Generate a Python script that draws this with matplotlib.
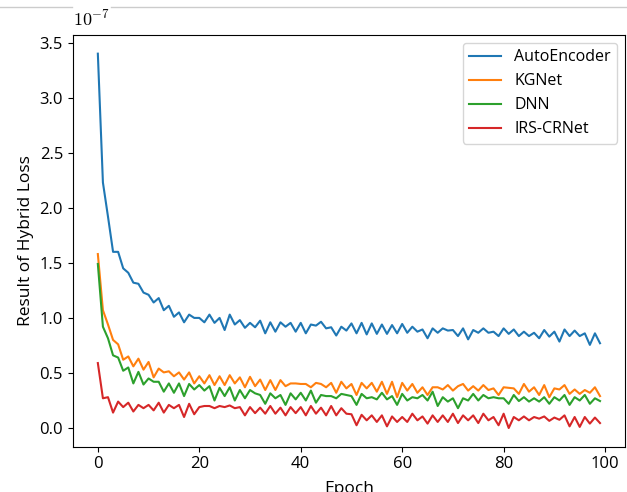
import numpy as np
import matplotlib
matplotlib.use("Agg")
import matplotlib.pyplot as plt
from matplotlib.lines import Line2D
from matplotlib.ticker import FuncFormatter

plt.rcParams['font.family'] = ['Open Sans', 'DejaVu Sans']
plt.rcParams['mathtext.fontset'] = 'cm'

SCALE = 1e-7
epochs = np.arange(100)

# Loss values per epoch, in units of 1e-7
autoencoder = [
    3.40, 2.23, 1.92, 1.60, 1.60, 1.45, 1.41, 1.32, 1.31, 1.23,
    1.21, 1.14, 1.18, 1.07, 1.11, 1.01, 1.05, 0.96, 1.03, 1.00,
    1.00, 0.96, 1.03, 0.955, 1.00, 0.89, 1.03, 0.94, 0.98, 0.91,
    0.955, 0.915, 0.975, 0.86, 0.96, 0.875, 0.96, 0.92, 0.955, 0.875,
    0.955, 0.86, 0.94, 0.93, 0.965, 0.905, 0.915, 0.84, 0.92, 0.885,
    0.95, 0.86, 0.955, 0.85, 0.95, 0.855, 0.94, 0.855, 0.935, 0.86,
    0.945, 0.865, 0.92, 0.875, 0.895, 0.815, 0.905, 0.865, 0.905, 0.885,
    0.89, 0.835, 0.905, 0.805, 0.89, 0.865, 0.905, 0.865, 0.875, 0.835,
    0.905, 0.855, 0.895, 0.835, 0.875, 0.835, 0.865, 0.815, 0.89, 0.83,
    0.875, 0.785, 0.895, 0.835, 0.885, 0.835, 0.86, 0.755, 0.86, 0.77,
]
kgnet = [
    1.58, 1.07, 0.94, 0.80, 0.76, 0.62, 0.65, 0.56, 0.63, 0.53,
    0.60, 0.46, 0.54, 0.505, 0.515, 0.47, 0.505, 0.44, 0.505, 0.405,
    0.47, 0.405, 0.48, 0.39, 0.47, 0.39, 0.48, 0.405, 0.46, 0.37,
    0.465, 0.38, 0.44, 0.345, 0.435, 0.345, 0.435, 0.38, 0.405, 0.405,
    0.40, 0.40, 0.37, 0.41, 0.40, 0.37, 0.41, 0.32, 0.42, 0.36,
    0.40, 0.30, 0.41, 0.36, 0.41, 0.33, 0.42, 0.31, 0.42, 0.28,
    0.41, 0.34, 0.40, 0.32, 0.37, 0.30, 0.37, 0.37, 0.35, 0.39,
    0.34, 0.38, 0.40, 0.34, 0.38, 0.34, 0.39, 0.345, 0.36, 0.30,
    0.37, 0.365, 0.36, 0.31, 0.40, 0.33, 0.37, 0.30, 0.39, 0.28,
    0.36, 0.35, 0.39, 0.31, 0.35, 0.31, 0.345, 0.32, 0.37, 0.29,
]
dnn = [
    1.49, 0.92, 0.815, 0.66, 0.64, 0.52, 0.55, 0.405, 0.51, 0.395,
    0.45, 0.42, 0.42, 0.33, 0.405, 0.32, 0.405, 0.29, 0.40, 0.35,
    0.39, 0.34, 0.38, 0.25, 0.365, 0.29, 0.37, 0.25, 0.345, 0.27,
    0.345, 0.315, 0.30, 0.22, 0.315, 0.27, 0.30, 0.21, 0.315, 0.26,
    0.32, 0.25, 0.34, 0.23, 0.30, 0.29, 0.29, 0.27, 0.31, 0.30,
    0.29, 0.21, 0.31, 0.27, 0.28, 0.26, 0.32, 0.26, 0.29, 0.21,
    0.31, 0.25, 0.28, 0.27, 0.30, 0.25, 0.33, 0.20, 0.28, 0.24,
    0.27, 0.18, 0.27, 0.25, 0.31, 0.25, 0.30, 0.27, 0.28, 0.27,
    0.27, 0.22, 0.30, 0.245, 0.28, 0.24, 0.27, 0.24, 0.28, 0.22,
    0.28, 0.25, 0.30, 0.21, 0.28, 0.25, 0.30, 0.22, 0.27, 0.245,
]
irs_crnet = [
    0.59, 0.27, 0.28, 0.14, 0.24, 0.19, 0.23, 0.15, 0.21, 0.18,
    0.21, 0.16, 0.23, 0.14, 0.21, 0.18, 0.21, 0.10, 0.22, 0.125,
    0.19, 0.20, 0.20, 0.18, 0.20, 0.19, 0.205, 0.18, 0.19, 0.115,
    0.19, 0.135, 0.185, 0.13, 0.20, 0.13, 0.185, 0.115, 0.19, 0.135,
    0.19, 0.115, 0.20, 0.13, 0.185, 0.115, 0.20, 0.115, 0.18, 0.13,
    0.125, 0.025, 0.12, 0.07, 0.115, 0.055, 0.115, 0.015, 0.105, 0.055,
    0.10, 0.055, 0.13, 0.07, 0.105, 0.04, 0.115, 0.055, 0.115, 0.055,
    0.13, 0.045, 0.115, 0.07, 0.115, 0.045, 0.13, 0.07, 0.10, 0.025,
    0.13, 0.0, 0.10, 0.07, 0.105, 0.07, 0.10, 0.085, 0.105, 0.065,
    0.095, 0.075, 0.115, 0.015, 0.10, 0.01, 0.10, 0.04, 0.095, 0.045,
]

series = [
    ("AutoEncoder", autoencoder, "#1f77b4"),
    ("KGNet", kgnet, "#ff7f0e"),
    ("DNN", dnn, "#2ca02c"),
    ("IRS-CRNet", irs_crnet, "#d62728"),
]

fig = plt.figure(figsize=(6.27, 4.92), dpi=100)
ax = fig.add_axes([0.116, 0.092, 0.881, 0.837])

for name, vals, color in series:
    ax.plot(epochs, np.array(vals) * SCALE, color=color, lw=1.5, label=name)

ax.yaxis.set_major_formatter(FuncFormatter(lambda v, p: f"{v / SCALE:.1f}"))
ax.set_yticks(np.arange(0, 3.51, 0.5) * SCALE)
ax.set_xticks([0, 20, 40, 60, 80, 100])
ax.tick_params(labelsize=12)
ax.text(0.0, 1.012, r"$10^{-7}$", transform=ax.transAxes, fontsize=13,
        ha="left", va="bottom")

ax.set_xlabel("Epoch", fontsize=12.5, labelpad=6)
ax.set_ylabel("Result of Hybrid Loss", fontsize=12.5)
ax.legend(loc="upper right", fontsize=11.5)

# thin page rule along the top edge
for x0, x1 in [(0, 72), (111, 627)]:
    fig.add_artist(Line2D([x0 / 627, x1 / 627], [1 - 7 / 492, 1 - 7 / 492],
                          transform=fig.transFigure, color="#cccccc", lw=1))

fig.savefig("out.png", dpi=100)
